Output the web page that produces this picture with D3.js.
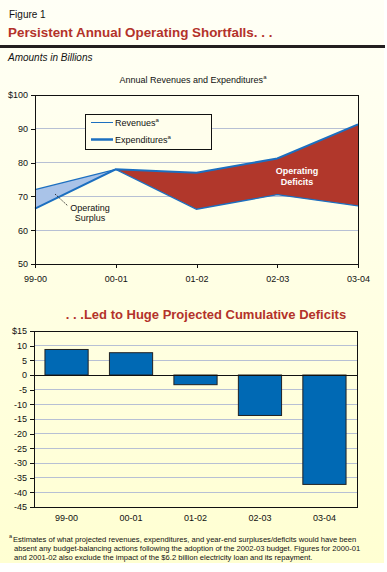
<!DOCTYPE html>
<meta charset="utf-8">
<style>
body { margin: 0; background: #fff; }
svg text { font-family: "Liberation Sans", Arial, sans-serif; fill: #111; }
.axis text { font-size: 9px; }
.axis path, .axis line { stroke: #111; shape-rendering: crispEdges; }
.grid line { stroke: #b7c0d4; shape-rendering: crispEdges; }
.red { fill: #b3322a; font-weight: bold; }
</style>
<body>
<script src="https://d3js.org/d3.v7.min.js"></script>
<script>
var years = ["99-00", "00-01", "01-02", "02-03", "03-04"];
var revenues = [72, 78, 66.2, 70.5, 67.2];
var expenditures = [66.4, 78, 77, 81.2, 91.3];
var deficits = [8.7, 7.6, -3.3, -13.8, -37.3];
var lineTicks = [50, 60, 70, 80, 90, 100];
var barTicks = [15, 10, 5, 0, -5, -10, -15, -20, -25, -30, -35, -40, -45];

var svg = d3.select("body").append("svg")
  .attr("width", 387).attr("height", 572);

var defs = svg.append("defs");
var grad = defs.append("linearGradient").attr("id", "bg")
  .attr("x1", 0).attr("y1", 0).attr("x2", 0).attr("y2", 1);
grad.append("stop").attr("offset", "0%").attr("stop-color", "#fffff6");
grad.append("stop").attr("offset", "100%").attr("stop-color", "#ffffd2");

svg.append("rect").attr("x", 0).attr("y", 0).attr("width", 384).attr("height", 563)
  .attr("fill", "url(#bg)");

// header
svg.append("text").attr("x", 9).attr("y", 18).style("font-size", "10px").text("Figure 1");
svg.append("text").attr("class", "red").attr("x", 8).attr("y", 37).style("font-size", "13.4px")
  .text("Persistent Annual Operating Shortfalls. . .");
svg.append("rect").attr("x", 0).attr("y", 45).attr("width", 385).attr("height", 3).attr("fill", "#231f20");
svg.append("text").attr("x", 8).attr("y", 61).style("font-size", "10px").style("font-style", "italic")
  .text("Amounts in Billions");

// ---- top chart
var t = {left: 35, right: 358, top: 95, bottom: 264};
var x1 = d3.scalePoint().domain(years).range([t.left, t.right]);
var y1 = d3.scaleLinear().domain([50, 100]).range([t.bottom, t.top]);

var title = svg.append("text").attr("x", 193).attr("y", 83).attr("text-anchor", "middle")
  .style("font-size", "9px").text("Annual Revenues and Expenditures");
title.append("tspan").attr("dy", -4).style("font-size", "6px").text("a");

svg.append("g").attr("class", "grid").selectAll("line")
  .data(lineTicks.slice(1, -1)).join("line")
  .attr("x1", t.left).attr("x2", t.right)
  .attr("y1", d => y1(d)).attr("y2", d => y1(d));

var pts = years.map((d, i) => ({year: d, rev: revenues[i], exp: expenditures[i]}));
var area = d3.area().x(d => x1(d.year)).y0(d => y1(d.rev)).y1(d => y1(d.exp));
svg.append("path").datum(pts.slice(0, 2)).attr("d", area).attr("fill", "#a9c3e8");
svg.append("path").datum(pts.slice(1)).attr("d", area).attr("fill", "#b1372b");

svg.append("path").datum(pts)
  .attr("d", d3.line().x(d => x1(d.year)).y(d => y1(d.rev)))
  .attr("fill", "none").attr("stroke", "#1c6fc0").attr("stroke-width", 1.3);
svg.append("path").datum(pts)
  .attr("d", d3.line().x(d => x1(d.year)).y(d => y1(d.exp)))
  .attr("fill", "none").attr("stroke", "#1c6fc0").attr("stroke-width", 2);

// frame
svg.append("rect").attr("x", t.left).attr("y", t.top).attr("width", t.right - t.left)
  .attr("height", t.bottom - t.top).attr("fill", "none").attr("stroke", "#111")
  .style("shape-rendering", "crispEdges");

svg.append("g").attr("class", "axis").attr("transform", "translate(" + t.left + ",0)")
  .call(d3.axisLeft(y1).tickValues(lineTicks).tickSize(4).tickPadding(3)
    .tickFormat(d => d === 100 ? "$100" : d))
  .call(g => g.select(".domain").remove());
svg.append("g").attr("class", "axis").attr("transform", "translate(0," + t.bottom + ")")
  .call(d3.axisBottom(x1).tickSize(4).tickPadding(8))
  .call(g => g.select(".domain").remove());

// legend
var lg = svg.append("g");
lg.append("rect").attr("x", 85).attr("y", 114).attr("width", 126).attr("height", 35)
  .attr("fill", "#fffeec").attr("stroke", "#111").style("shape-rendering", "crispEdges");
lg.append("line").attr("x1", 91).attr("x2", 113).attr("y1", 122.5).attr("y2", 122.5)
  .attr("stroke", "#1c6fc0").attr("stroke-width", 1);
lg.append("line").attr("x1", 91).attr("x2", 113).attr("y1", 139.5).attr("y2", 139.5)
  .attr("stroke", "#1c6fc0").attr("stroke-width", 2.5);
var l1 = lg.append("text").attr("x", 115).attr("y", 126).style("font-size", "9px").text("Revenues");
l1.append("tspan").attr("dy", -4).style("font-size", "6px").text("a");
var l2 = lg.append("text").attr("x", 115).attr("y", 143).style("font-size", "9px").text("Expenditures");
l2.append("tspan").attr("dy", -4).style("font-size", "6px").text("a");

// annotations
svg.append("line").attr("x1", 55).attr("y1", 194).attr("x2", 68).attr("y2", 206)
  .attr("stroke", "#111").attr("stroke-width", 0.8).attr("stroke-dasharray", "1.5,1");
svg.append("text").attr("x", 90).attr("y", 211).attr("text-anchor", "middle").style("font-size", "9px").text("Operating");
svg.append("text").attr("x", 90).attr("y", 221).attr("text-anchor", "middle").style("font-size", "9px").text("Surplus");
svg.append("text").attr("x", 297).attr("y", 174).attr("text-anchor", "middle").style("font-size", "9px")
  .style("font-weight", "bold").style("fill", "#fff").text("Operating");
svg.append("text").attr("x", 297).attr("y", 185).attr("text-anchor", "middle").style("font-size", "9px")
  .style("font-weight", "bold").style("fill", "#fff").text("Deficits");

// ---- bottom chart
svg.append("text").attr("class", "red").attr("x", 206).attr("y", 319).attr("text-anchor", "middle")
  .style("font-size", "13px").text(". . .Led to Huge Projected Cumulative Deficits");

var b = {left: 34, right: 357, top: 331, bottom: 507};
var x2 = d3.scaleBand().domain(years).range([b.left, b.right]).paddingInner(0.33).paddingOuter(0.17);
var y2 = d3.scaleLinear().domain([-45, 15]).range([b.bottom, b.top]);

svg.append("g").attr("class", "grid").selectAll("line")
  .data(barTicks.filter(d => d !== 15 && d !== -45 && d !== 0)).join("line")
  .attr("x1", b.left).attr("x2", b.right)
  .attr("y1", d => y2(d)).attr("y2", d => y2(d));

svg.append("g").selectAll("rect").data(years).join("rect")
  .attr("x", d => x2(d)).attr("width", x2.bandwidth())
  .attr("y", (d, i) => y2(Math.max(0, deficits[i])))
  .attr("height", (d, i) => Math.abs(y2(deficits[i]) - y2(0)))
  .attr("fill", "#0069b4").attr("stroke", "#222").attr("stroke-width", 1);

svg.append("line").attr("x1", b.left).attr("x2", b.right).attr("y1", y2(0)).attr("y2", y2(0))
  .attr("stroke", "#111").style("shape-rendering", "crispEdges");
svg.append("rect").attr("x", b.left).attr("y", b.top).attr("width", b.right - b.left)
  .attr("height", b.bottom - b.top).attr("fill", "none").attr("stroke", "#111")
  .style("shape-rendering", "crispEdges");

svg.append("g").attr("class", "axis").attr("transform", "translate(" + b.left + ",0)")
  .call(d3.axisLeft(y2).tickValues(barTicks).tickSize(4).tickPadding(3)
    .tickFormat(d => d === 15 ? "$15" : d))
  .call(g => g.select(".domain").remove());
svg.append("g").attr("class", "axis").attr("transform", "translate(0," + b.bottom + ")")
  .call(d3.axisBottom(x2).tickSize(0).tickPadding(8))
  .call(g => g.select(".domain").remove());

// footnote
var notes = [
  "Estimates of what projected revenues, expenditures, and year-end surpluses/deficits would have been",
  "absent any budget-balancing actions following the adoption of the 2002-03 budget. Figures for 2000-01",
  "and 2001-02 also exclude the impact of the $6.2 billion electricity loan and its repayment."
];
svg.append("text").attr("x", 9).attr("y", 538).style("font-size", "5.5px").text("a");
svg.selectAll(".note").data(notes).join("text").attr("class", "note")
  .attr("x", (d, i) => i === 0 ? 13 : 14).attr("y", (d, i) => 542 + i * 9)
  .style("font-size", "7.6px").text(d => d);
</script>
</body>
